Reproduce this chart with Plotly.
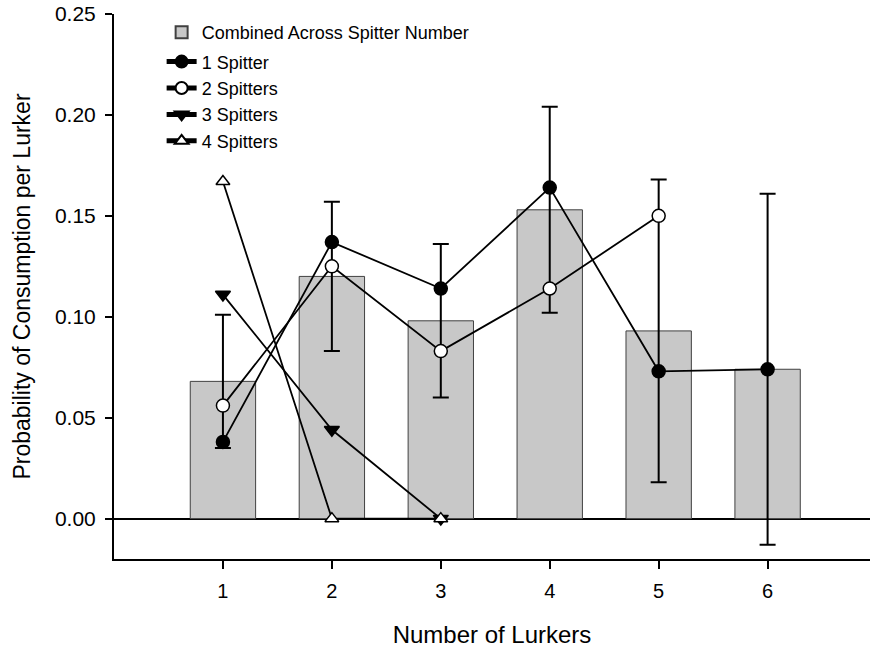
import plotly.graph_objects as go

lurkers = [1, 2, 3, 4, 5, 6]
combined = [0.068, 0.120, 0.098, 0.153, 0.093, 0.074]
combined_err = [0.033, 0.037, 0.038, 0.051, 0.075, 0.087]

x_1 = [1, 2, 3, 4, 5, 6]
spitter_1 = [0.038, 0.137, 0.114, 0.164, 0.073, 0.074]
x_2 = [1, 2, 3, 4, 5]
spitter_2 = [0.056, 0.125, 0.083, 0.114, 0.150]
x_3 = [1, 2, 3]
spitter_3 = [0.111, 0.044, 0.0]
x_4 = [1, 2, 3]
spitter_4 = [0.167, 0.0, 0.0]

y_ticks = [0.00, 0.05, 0.10, 0.15, 0.20, 0.25]
y_ticklabels = ["0.00", "0.05", "0.10", "0.15", "0.20", "0.25"]

FONT = "Liberation Sans, Arial, sans-serif"

fig = go.Figure()
fig.add_trace(go.Bar(
    x=lurkers, y=combined, width=0.6,
    name="Combined Across Spitter Number",
    marker=dict(color="#c8c8c8", line=dict(color="#404040", width=1)),
    error_y=dict(type="data", array=combined_err, visible=True,
                 color="black", thickness=2, width=8),
    legendgroup="bars",
))

line_style = dict(color="black", width=1.8)
fig.add_trace(go.Scatter(
    x=x_1, y=spitter_1, mode="lines+markers", name="1 Spitter",
    line=line_style, legendgroup="lines",
    marker=dict(symbol="circle", size=13, color="black", line=dict(color="black", width=1.5)),
))
fig.add_trace(go.Scatter(
    x=x_2, y=spitter_2, mode="lines+markers", name="2 Spitters",
    line=line_style, legendgroup="lines",
    marker=dict(symbol="circle", size=13, color="white", line=dict(color="black", width=1.5)),
))
fig.add_trace(go.Scatter(
    x=x_3, y=spitter_3, mode="lines+markers", name="3 Spitters",
    line=line_style, legendgroup="lines",
    marker=dict(symbol="triangle-down", size=13, color="black", line=dict(color="black", width=1.5)),
))
fig.add_trace(go.Scatter(
    x=x_4, y=spitter_4, mode="lines+markers", name="4 Spitters",
    line=line_style, legendgroup="lines",
    marker=dict(symbol="triangle-up", size=12, color="white", line=dict(color="black", width=1.5)),
))

fig.update_layout(
    width=870, height=649,
    margin=dict(l=114, r=0, t=14, b=90),
    paper_bgcolor="white", plot_bgcolor="white",
    font=dict(family=FONT, size=19, color="black"),
    showlegend=True,
    legend=dict(
        x=0.063, y=1.0, xanchor="left", yanchor="top",
        bgcolor="rgba(0,0,0,0)", borderwidth=0,
        font=dict(family=FONT, size=18, color="black"),
        traceorder="grouped", tracegroupgap=3,
        itemsizing="constant",
    ),
    xaxis=dict(
        range=[0, 6.94], tickvals=lurkers, ticktext=[str(v) for v in lurkers],
        showline=True, linecolor="black", linewidth=2,
        ticks="outside", ticklen=8, tickwidth=2, tickcolor="black",
        ticklabelstandoff=5,
        showgrid=False, zeroline=False,
        tickfont=dict(family=FONT, size=20),
        title=dict(text="Number of Lurkers", font=dict(family=FONT, size=24), standoff=25),
    ),
    yaxis=dict(
        range=[-0.02, 0.25], tickvals=y_ticks, ticktext=y_ticklabels,
        showline=True, linecolor="black", linewidth=2,
        ticks="outside", ticklen=7, tickwidth=2, tickcolor="black",
        ticklabelstandoff=5,
        showgrid=False, zeroline=True, zerolinecolor="black", zerolinewidth=2,
        tickfont=dict(family=FONT, size=21),
        title=dict(text="Probability of Consumption per Lurker", font=dict(family=FONT, size=23), standoff=18),
    ),
)

fig.write_html("out.html", config={"displayModeBar": False},
               post_script="document.body.style.margin='0px';")
